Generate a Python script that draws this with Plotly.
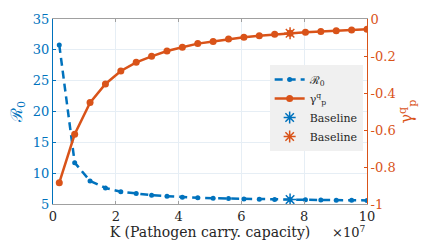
import plotly.graph_objects as go

K = [0.2, 0.69, 1.18, 1.67, 2.16, 2.65, 3.14, 3.63, 4.12, 4.61, 5.1,
     5.59, 6.08, 6.57, 7.06, 7.55, 8.04, 8.53, 9.02, 9.51, 10.0]  # x 1e7
R0 = [30.8, 11.7, 8.75, 7.6, 7.0, 6.7, 6.43, 6.26, 6.1, 6.0, 5.94,
      5.88, 5.83, 5.78, 5.75, 5.72, 5.68, 5.65, 5.62, 5.6, 5.58]
gamma = [-0.885, -0.623, -0.452, -0.351, -0.281, -0.234, -0.202, -0.173, -0.153,
         -0.133, -0.121, -0.108, -0.099, -0.090, -0.083, -0.077, -0.072, -0.067,
         -0.063, -0.059, -0.056]
base_K = [7.55]
base_R0 = [5.72]
base_gamma = [-0.077]

BLUE = "#0072BD"
ORANGE = "#D95319"
FONT = "DejaVu Serif"

fig = go.Figure()
fig.add_trace(go.Scatter(x=K, y=R0, mode="lines+markers", name="ℛ<sub>0</sub>",
                         line=dict(color=BLUE, width=2.5, dash="8px,5px"),
                         marker=dict(color=BLUE, size=5)))
fig.add_trace(go.Scatter(x=K, y=gamma, mode="lines+markers", name="γ<sup>q</sup><sub>p</sub>",
                         yaxis="y2",
                         line=dict(color=ORANGE, width=2.5),
                         marker=dict(color=ORANGE, size=7)))
fig.add_trace(go.Scatter(x=base_K, y=base_R0, mode="markers", name="Baseline",
                         marker=dict(symbol="asterisk-open", size=10, color=BLUE,
                                     line=dict(color=BLUE, width=1.5))))
fig.add_trace(go.Scatter(x=base_K, y=base_gamma, mode="markers", name="Baseline",
                         yaxis="y2",
                         marker=dict(symbol="asterisk-open", size=10, color=ORANGE,
                                     line=dict(color=ORANGE, width=1.5))))

fig.update_layout(
    width=421, height=245,
    margin=dict(l=53, r=54, t=19, b=41, autoexpand=False),
    paper_bgcolor="white", plot_bgcolor="white",
    font=dict(family=FONT, size=13, color="#262626"),
    showlegend=True,
    legend=dict(x=0.69, y=0.751, xanchor="left", yanchor="top",
                bgcolor="#f0f0f0", borderwidth=0,
                font=dict(family=FONT, size=11, color="#262626"),
                tracegroupgap=0, itemwidth=30),
    xaxis=dict(range=[0, 10], tickvals=[0, 2, 4, 6, 8, 10], automargin=False,
               showgrid=True, gridcolor="#e6eef5", gridwidth=1,
               showline=True, linecolor="#a0a0a0", mirror="ticks",
               ticks="inside", ticklen=3, tickcolor="#a0a0a0",
               tickfont=dict(family=FONT, size=13, color="#262626"),
               title=dict(text="K (Pathogen carry. capacity)", standoff=3,
                          font=dict(family=FONT, size=14, color="#262626")),
               zeroline=False),
    yaxis=dict(range=[5, 35], tickvals=[5, 10, 15, 20, 25, 30, 35], automargin=False,
               showgrid=True, gridcolor="#e6eef5", gridwidth=1,
               showline=True, linecolor=BLUE, ticks="inside", ticklen=3,
               tickcolor=BLUE,
               tickfont=dict(family=FONT, size=13, color=BLUE),
               title=dict(text="ℛ<sub>0</sub>", standoff=6,
                          font=dict(family=FONT, size=16, color=BLUE)),
               zeroline=False),
    yaxis2=dict(range=[-1, 0], tickvals=[-1, -0.8, -0.6, -0.4, -0.2, 0], automargin=False,
                ticktext=["-1", "-0.8", "-0.6", "-0.4", "-0.2", "0"],
                overlaying="y", side="right", showgrid=False,
                showline=True, linecolor=ORANGE, ticks="inside", ticklen=3,
                tickcolor=ORANGE,
                tickfont=dict(family=FONT, size=13, color=ORANGE),
                title=dict(text="γ<sup>q</sup><sub>p</sub>", standoff=4,
                           font=dict(family=FONT, size=16, color=ORANGE)),
                zeroline=False),
)
fig.add_annotation(text="×10<sup>7</sup>", xref="paper", yref="paper",
                   x=1.0, y=-0.151, xanchor="right", yanchor="middle", showarrow=False,
                   font=dict(family=FONT, size=13, color="#262626"))

fig.write_html("out.html", config={"displayModeBar": False},
               post_script="document.body.style.margin='0';")
